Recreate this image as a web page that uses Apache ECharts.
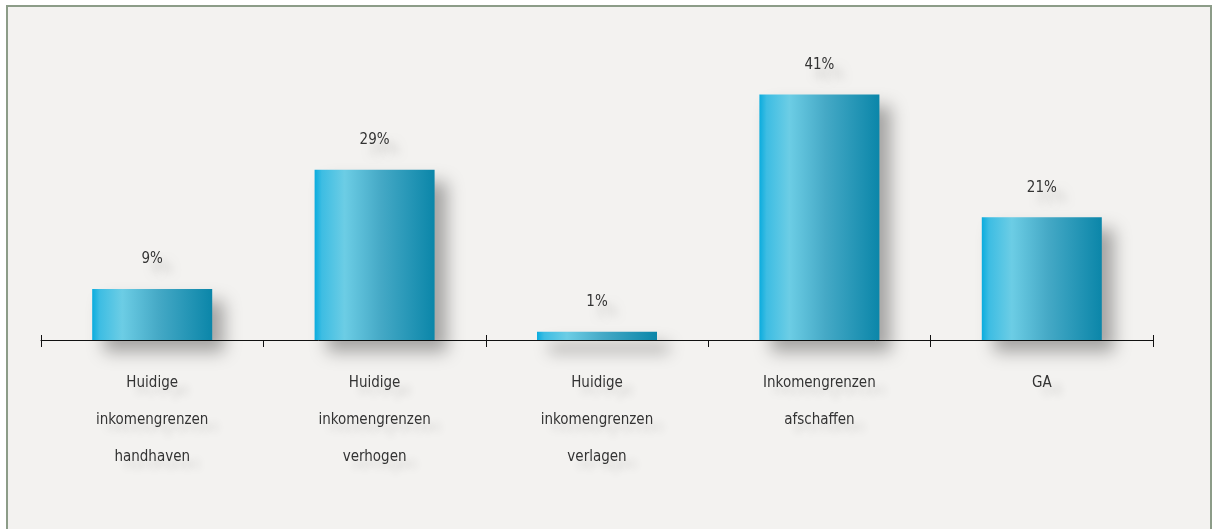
<!DOCTYPE html>
<html>
<head>
<meta charset="utf-8">
<script src="https://cdn.jsdelivr.net/npm/echarts@6/dist/echarts.min.js"></script>
<style>
html,body{margin:0;padding:0;background:#ffffff;}
#frame{position:absolute;left:6px;top:5px;width:1206px;height:524px;border:2px solid #8c9c88;border-bottom:none;background:#f3f2f0;box-sizing:border-box;}
#chart{position:absolute;left:0;top:0;width:1216px;height:532px;}
</style>
</head>
<body>
<div id="frame"></div>
<div id="chart"></div>
<script>
const categories = ['Huidige inkomengrenzen handhaven','Huidige inkomengrenzen verhogen','Huidige inkomengrenzen verlagen','Inkomengrenzen afschaffen','GA'];
const values = [8.6, 28.7, 1.4, 41.4, 20.7];

const FONT = '"Liberation Sans Narrow", "DejaVu Sans Condensed", sans-serif';
const chart = echarts.init(document.getElementById('chart'));
chart.setOption({
  backgroundColor: 'transparent',
  animation: false,
  grid: {left: 41, right: 63, top: 43.5, bottom: 192},
  xAxis: [{
    type: 'category',
    data: categories,
    boundaryGap: true,
    axisLine: {show: true, lineStyle: {color: '#111', width: 1}},
    axisTick: {show: true, length: 7, lineStyle: {color: '#111', width: 1}},
    axisLabel: {
      interval: 0,
      margin: 25,
      lineHeight: 37,
      fontSize: 15,
      fontFamily: FONT,
      color: '#333',
      textShadowColor: 'rgba(0,0,0,0.16)',
      textShadowBlur: 9,
      textShadowOffsetX: 10,
      textShadowOffsetY: 8,
      formatter: v => v.split(' ').join('\n')
    }
  }, {
    type: 'category',
    data: categories,
    position: 'bottom',
    boundaryGap: true,
    axisLine: {show: false},
    axisTick: {show: true, inside: true, length: 5, lineStyle: {color: '#111', width: 1}},
    axisLabel: {show: false}
  }],
  yAxis: {type: 'value', min: 0, max: 50, show: false, splitLine: {show: false}},
  series: [{
    type: 'bar',
    data: values,
    barWidth: 120,
    itemStyle: {
      color: new echarts.graphic.LinearGradient(0, 0, 1, 0, [
        {offset: 0, color: '#0aacde'},
        {offset: 0.06, color: '#3dbde3'},
        {offset: 0.25, color: '#6ccde5'},
        {offset: 0.55, color: '#45a9c6'},
        {offset: 1, color: '#0b86a9'}
      ]),
      shadowColor: 'rgba(0,0,0,0.32)',
      shadowBlur: 16,
      shadowOffsetX: 12,
      shadowOffsetY: 12
    },
    label: {
      show: true,
      position: 'top',
      distance: 22,
      fontSize: 15,
      fontFamily: FONT,
      color: '#333',
      formatter: p => Math.round(p.value) + '%',
      textShadowColor: 'rgba(0,0,0,0.18)',
      textShadowBlur: 9,
      textShadowOffsetX: 10,
      textShadowOffsetY: 10
    }
  }]
});
</script>
</body>
</html>
